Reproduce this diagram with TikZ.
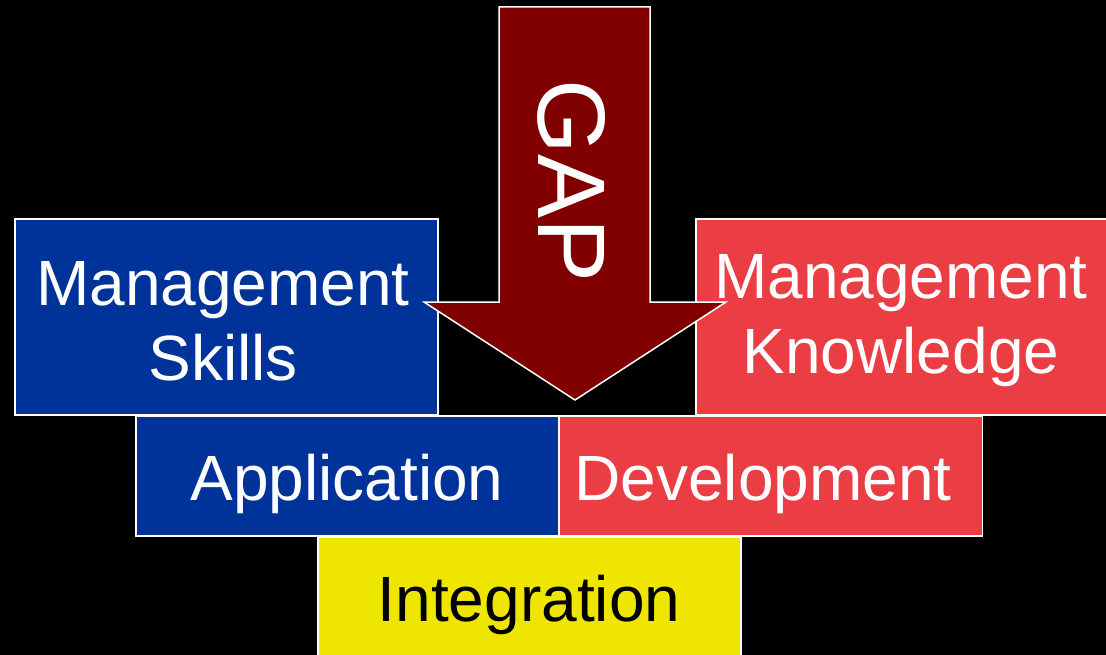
\documentclass[tikz,border=0pt]{standalone}
\usepackage{fontspec}
\setmainfont{Liberation Sans}
\usepackage{tikz}
\definecolor{skillblue}{RGB}{0,51,153}
\definecolor{knowred}{RGB}{234,61,68}
\definecolor{integyellow}{RGB}{238,230,0}
\definecolor{gapred}{RGB}{128,0,0}
\tikzset{block/.style={draw=white,line width=1.5pt,rectangle,inner sep=0pt,minimum width=423pt}}
\tikzset{blueblock/.style={block,fill=skillblue}}
\tikzset{redblock/.style={block,fill=knowred}}
\tikzset{yellowblock/.style={block,fill=integyellow}}
\tikzset{blocktext/.style={text=white,inner sep=0pt,align=center,font=\fontsize{64}{75}\selectfont}}
\tikzset{onelinetext/.style={blocktext,text height=46pt,text depth=0pt}}
\tikzset{gaparrow/.style={draw=white,line width=1.5pt,fill=gapred}}

\begin{document}
\begin{tikzpicture}[x=1pt,y=-1pt]
    \useasboundingbox (0,0) rectangle (1106,655);
    \fill[black] (0,0) rectangle (1106,655);
    \clip (0,0) rectangle (1106,655);

    % top row
    \node[blueblock,minimum height=196pt] (mskills) at (226.5,317) {};
    \node[redblock,minimum height=196pt] (mknow) at (907.5,317) {};
    \node[blocktext] (mskillstext) at (223,321) {Management\\Skills};
    \node[blocktext] (mknowtext) at (901,321) {Management\\Knowledge};

    % middle row
    \node[blueblock,minimum height=120pt] (appl) at (347.5,476) {};
    \node[redblock,minimum height=120pt] (devel) at (771,476) {};
    \node[onelinetext] (appltext) at (347,477) {Application};
    \node[onelinetext] (develtext) at (763,477) {Development};

    % bottom
    \node[yellowblock,minimum height=120pt] (integ) at (529.5,597) {};
    \node[onelinetext,text=black] (integtext) at (529,598) {Integration};

    % the gap arrow
    \draw[gaparrow] (499,7) -- (650,7) -- (650,302) -- (726,302) -- (575,400)
        -- (424,302) -- (499,302) -- cycle;
    \node[text=white,rotate=-90,font=\fontsize{96}{96}\selectfont] (gap) at (572,181) {GAP};
\end{tikzpicture}
\end{document}
